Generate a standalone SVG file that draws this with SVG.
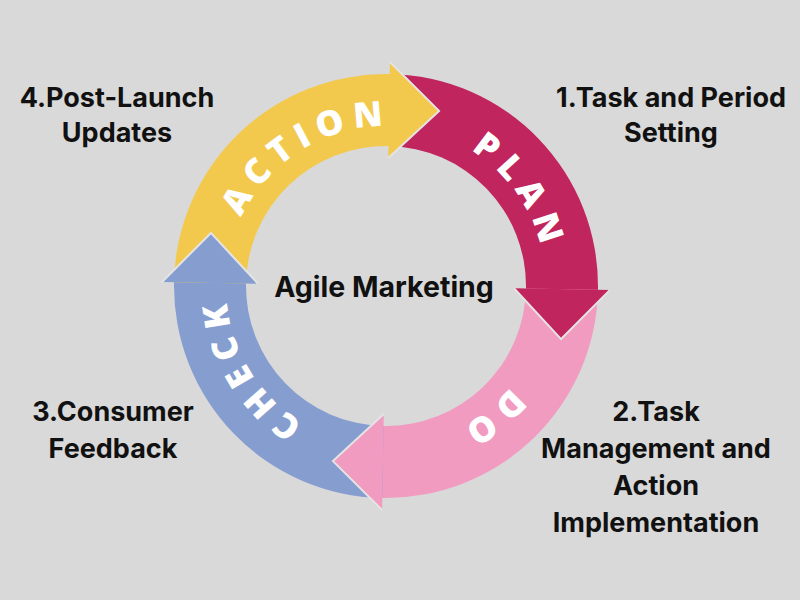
<svg xmlns="http://www.w3.org/2000/svg" width="800" height="600" viewBox="0 0 800 600">
  <style>
    .lbl { font-family: "Inter", "Liberation Sans", sans-serif; font-weight: 700; font-size: 27px; fill: #111111; text-anchor: middle; }
    .center { font-size: 28.5px; }
    .seg { font-family: "Open Sans", "DejaVu Sans", sans-serif; font-weight: 800; font-size: 35px; fill: #ffffff; letter-spacing: 8px; text-anchor: middle; }
    .edge { fill: none; stroke: #e4e4e4; stroke-width: 2; stroke-linejoin: miter; }
  </style>
  <defs>
    <path id="ring" d="M546,286 A160,160 0 1 1 226,286 A160,160 0 1 1 546,286"/>
  </defs>
  <rect width="800" height="600" fill="#d9d9d9"/>
  <g id="cycle" transform="rotate(1 386 286)">
    <g id="shafts">
      <path id="plan-shaft" d="M386,74 A212,212 0 0 1 598,286 L598,292 L526,292 L526,286 A140,140 0 0 0 386,146 Z" fill="#c1255d"/>
      <path id="do-shaft" d="M598,286 A212,212 0 0 1 386,498 L380,498 L380,426 L386,426 A140,140 0 0 0 526,286 Z" fill="#f29bc1"/>
      <path id="check-shaft" d="M386,498 A212,212 0 0 1 174,286 L174,280 L246,280 L246,286 A140,140 0 0 0 386,426 Z" fill="#869dd0"/>
      <path id="action-shaft" d="M174,286 A212,212 0 0 1 386,74 L392,74 L392,146 L386,146 A140,140 0 0 0 246,286 Z" fill="#f3c94d"/>
    </g>
    <g id="action">
      <polygon points="386,62 436,110 386,158" fill="#f3c94d"/>
      <polyline class="edge" points="386,62 436,110 386,158"/>
      <text class="seg"><textPath href="#ring" startOffset="66%">ACTION</textPath></text>
    </g>
    <g id="plan">
      <polygon points="610,286 562,336 514,286" fill="#c1255d"/>
      <polyline class="edge" points="610,286 562,336 514,286"/>
      <text class="seg"><textPath href="#ring" startOffset="90%">PLAN</textPath></text>
    </g>
    <g id="do">
      <polygon points="386,510 336,462 386,414" fill="#f29bc1"/>
      <polyline class="edge" points="386,510 336,462 386,414"/>
      <text class="seg"><textPath href="#ring" startOffset="14%">DO</textPath></text>
    </g>
    <g id="check">
      <polygon points="162,286 210,236 258,286" fill="#869dd0"/>
      <polyline class="edge" points="162,286 210,236 258,286"/>
      <text class="seg"><textPath href="#ring" startOffset="41.1%">CHECK</textPath></text>
    </g>
  </g>
  <g id="center-label">
    <text class="lbl center" x="384" y="297">Agile Marketing</text>
  </g>
  <g id="label-1">
    <text class="lbl" x="671" y="107">1.Task and Period</text>
    <text class="lbl" x="671" y="142">Setting</text>
  </g>
  <g id="label-2">
    <text class="lbl" x="656" y="421">2.Task</text>
    <text class="lbl" x="656" y="458">Management and</text>
    <text class="lbl" x="656" y="495">Action</text>
    <text class="lbl" x="656" y="532">Implementation</text>
  </g>
  <g id="label-3">
    <text class="lbl" x="113" y="421">3.Consumer</text>
    <text class="lbl" x="113" y="458">Feedback</text>
  </g>
  <g id="label-4">
    <text class="lbl" x="117" y="107">4.Post-Launch</text>
    <text class="lbl" x="117" y="142">Updates</text>
  </g>
</svg>
